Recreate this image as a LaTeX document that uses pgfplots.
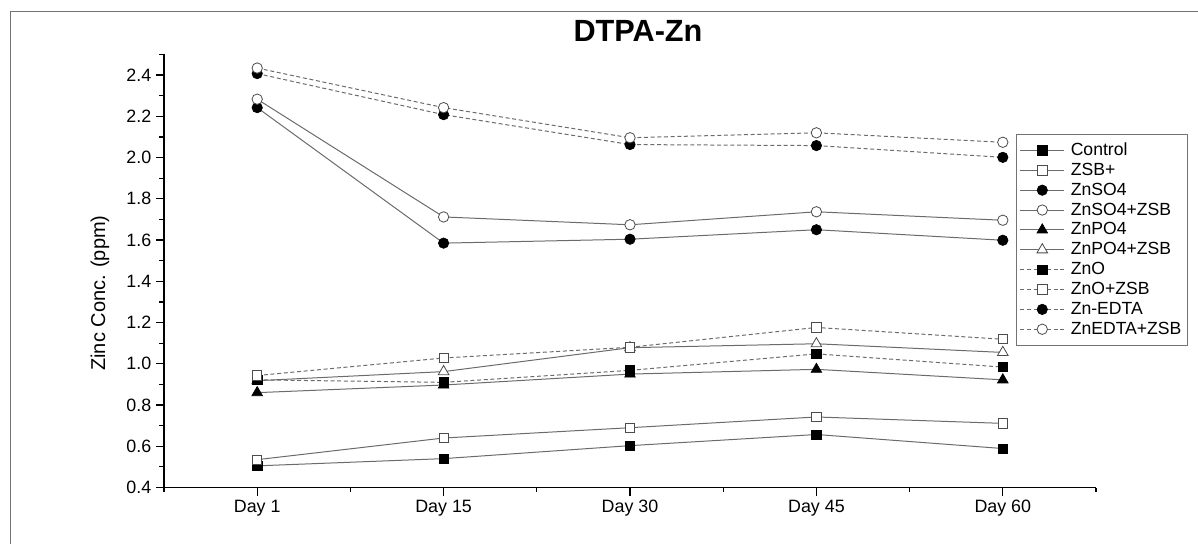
\documentclass[border=0pt]{standalone}
\usepackage{fontspec}
\setmainfont{Liberation Sans}
\usepackage{pgfplots}
\pgfplotsset{compat=1.18}
\definecolor{linegray}{gray}{0.42}

\pgfplotsset{
  base/.style={color=linegray, line width=0.75pt},
  solidl/.style={base, solid},
  dashl/.style={base, dash pattern=on 3pt off 2pt},
  filled/.style={mark options={solid, draw=black, fill=black, line width=0.5pt}},
  hollow/.style={mark options={solid, draw=black!70, fill=white, line width=0.6pt}},
  sq/.style={mark=square*, mark size=3.5pt},
  ci/.style={mark=*, mark size=3.9pt},
  tr/.style={mark=triangle*, mark size=4.6pt},
}

\begin{document}
\begin{tikzpicture}
\useasboundingbox (-123pt,-42.375pt) rectangle (775.5pt,365.625pt);
\draw[black!55, line width=1pt] (-115.1pt,-42.375pt) -- (-115.1pt,357pt) -- (775.5pt,357pt);
\begin{axis}[
  at={(0pt,0pt)}, anchor=south west,
  scale only axis, width=699pt, height=324.8pt,
  xmin=-0.5, xmax=4.5, ymin=0.4, ymax=2.5,
  axis x line*=bottom, axis y line*=left,
  axis line style={-, line width=1.1pt},
  xtick={0,1,2,3,4},
  xticklabels={Day 1,Day 15,Day 30,Day 45,Day 60},
  minor xtick={-0.5,0.5,1.5,2.5,3.5,4.5},
  ytick={0.4,0.6,0.8,1.0,1.2,1.4,1.6,1.8,2.0,2.2,2.4},
  minor ytick={0.5,0.7,0.9,1.1,1.3,1.5,1.7,1.9,2.1,2.3,2.5},
  tick align=outside,
  major tick length=6pt, minor tick length=3.5pt,
  every tick/.style={black, line width=0.9pt},
  tick label style={font=\fontsize{13.4}{15}\selectfont},
  /pgf/number format/assume math mode=true,
  yticklabel style={/pgf/number format/.cd, fixed, fixed zerofill, precision=1},
  ylabel={Zinc Conc. (ppm)},
  ylabel style={font=\fontsize{15}{17}\selectfont, at={(axis description cs:-0.0687,0.449)}, anchor=center},
  title={DTPA-Zn},
  title style={font=\bfseries\fontsize{23}{27}\selectfont, at={(axis description cs:0.5,1)}, anchor=base, yshift=3.4pt, xshift=6pt},
  legend style={at={(axis description cs:0.9142,0.816)}, anchor=north west,
    draw=black!55, line width=0.6pt, font=\fontsize{13.2}{15}\selectfont,
    inner xsep=2.5pt, inner ysep=4.5pt, row sep=0pt, column sep=2.5pt,
    nodes={inner xsep=2pt, inner ysep=1.5pt, text height=9.7pt, text depth=2.2pt}},
  legend cell align=left,
  legend image code/.code={\draw[mark repeat=2, mark phase=2] plot coordinates {(0cm,0cm) (0.58cm,0cm) (1.16cm,0cm)};},
]
\addplot[solidl, filled, sq] coordinates {(0,0.505) (1,0.540) (2,0.603) (3,0.657) (4,0.589)};
\addlegendentry{Control}
\addplot[solidl, hollow, sq] coordinates {(0,0.535) (1,0.640) (2,0.690) (3,0.742) (4,0.711)};
\addlegendentry{ZSB+}
\addplot[solidl, filled, ci] coordinates {(0,2.242) (1,1.585) (2,1.604) (3,1.650) (4,1.599)};
\addlegendentry{ZnSO4}
\addplot[solidl, hollow, ci] coordinates {(0,2.283) (1,1.712) (2,1.674) (3,1.737) (4,1.696)};
\addlegendentry{ZnSO4+ZSB}
\addplot[solidl, filled, tr] coordinates {(0,0.860) (1,0.897) (2,0.950) (3,0.973) (4,0.922)};
\addlegendentry{ZnPO4}
\addplot[solidl, hollow, tr] coordinates {(0,0.918) (1,0.962) (2,1.078) (3,1.097) (4,1.055)};
\addlegendentry{ZnPO4+ZSB}
\addplot[dashl, filled, sq] coordinates {(0,0.922) (1,0.910) (2,0.968) (3,1.048) (4,0.984)};
\addlegendentry{ZnO}
\addplot[dashl, hollow, sq] coordinates {(0,0.943) (1,1.028) (2,1.080) (3,1.176) (4,1.119)};
\addlegendentry{ZnO+ZSB}
\addplot[dashl, filled, ci] coordinates {(0,2.407) (1,2.208) (2,2.063) (3,2.058) (4,2.001)};
\addlegendentry{Zn-EDTA}
\addplot[dashl, hollow, ci] coordinates {(0,2.434) (1,2.242) (2,2.096) (3,2.120) (4,2.074)};
\addlegendentry{ZnEDTA+ZSB}
\end{axis}
\end{tikzpicture}
\end{document}
